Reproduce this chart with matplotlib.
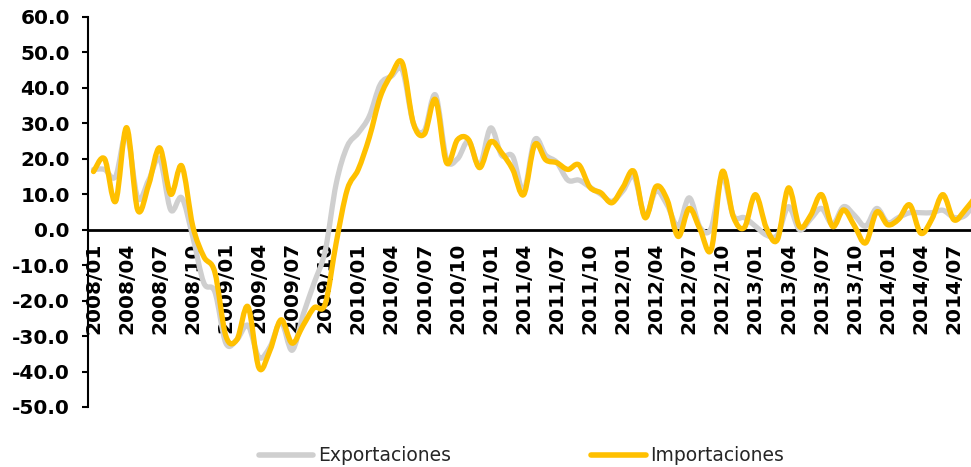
import matplotlib
matplotlib.use('Agg')
from matplotlib import pyplot as plt
from matplotlib.path import Path
from matplotlib.patches import PathPatch
from matplotlib.lines import Line2D
import numpy as np

plt.rcParams['font.family'] = ['DejaVu Sans']

# monthly growth, 2008/01 .. 2014/09
exportaciones = [17, 17, 15, 27, 9, 14, 20, 5.6, 9, -2,
                 -15, -17.5, -32, -31, -27, -36, -33, -26, -34, -24,
                 -15, -6, 13, 23.5, 27.3, 32, 41, 43.3, 45, 30,
                 28, 38, 20, 20, 25, 18, 28.7, 21, 20.7, 11,
                 25.4, 21, 19, 14, 14, 12, 10, 8, 11, 15,
                 4, 11, 7, 1, 9, 0.6, 0.5, 15, 4, 3.4,
                 1, -1.5, -1.5, 6.5, 0, 3, 6, 1.5, 6.5, 4,
                 1, 6, 2, 3.5, 4.8, 4.8, 4.8, 5.5, 3.5, 4,
                 8]
importaciones = [16.4, 20, 8, 28.8, 5.6, 12.7, 23.1, 10, 18, 1,
                 -7.6, -12, -30, -31, -21.7, -39, -34, -25.4, -32, -27,
                 -22, -21, -3.7, 11.3, 17, 26, 37.5, 43.7, 47, 30,
                 27, 36.7, 18.9, 25.4, 25.4, 17.5, 24.8, 21.7, 17, 9.9,
                 24, 19.7, 18.9, 17, 18.3, 12, 10.4, 7.6, 12, 16.4,
                 3.4, 12.2, 8.5, -1.9, 6, 0, -5.6, 16.4, 3.7, 0.6,
                 9.9, 0.5, -2.8, 11.8, 0.9, 4, 9.9, 0.9, 5.6, 1,
                 -3.7, 5, 1.4, 3, 7, -1, 3, 9.9, 2.8, 5.5,
                 9.5]

tick_labels = ["2008/01", "2008/04", "2008/07", "2008/10",
               "2009/01", "2009/04", "2009/07", "2009/10",
               "2010/01", "2010/04", "2010/07", "2010/10",
               "2011/01", "2011/04", "2011/07", "2011/10",
               "2012/01", "2012/04", "2012/07", "2012/10",
               "2013/01", "2013/04", "2013/07", "2013/10",
               "2014/01", "2014/04", "2014/07"]

GREY = "#CFCFCF"
GOLD = "#FFC000"


def smooth_path(xs, ys):
    # catmull-rom through the points, like excel's smoothed line
    n = len(xs)
    verts = [(xs[0], ys[0])]
    codes = [Path.MOVETO]
    for i in range(n - 1):
        a = max(i - 1, 0)
        d = min(i + 2, n - 1)
        c1 = (xs[i] + (xs[i + 1] - xs[a]) / 6.0, ys[i] + (ys[i + 1] - ys[a]) / 6.0)
        c2 = (xs[i + 1] - (xs[d] - xs[i]) / 6.0, ys[i + 1] - (ys[d] - ys[i]) / 6.0)
        verts += [c1, c2, (xs[i + 1], ys[i + 1])]
        codes += [Path.CURVE4] * 3
    return Path(verts, codes)


fig = plt.figure(figsize=(9.71, 4.67), dpi=100)
ax = fig.add_axes([88 / 971, 1 - 407 / 467, 1 - 88 / 971, 390 / 467])

# spine position first: it resets the tick labels
ax.spines['bottom'].set_position(('data', 0))
ax.spines['bottom'].set_linewidth(2)
ax.spines['left'].set_linewidth(1.5)
ax.spines['top'].set_visible(False)
ax.spines['right'].set_visible(False)

x = np.arange(len(importaciones))
for vals, col in [(exportaciones, GREY), (importaciones, GOLD)]:
    patch = PathPatch(smooth_path(x, vals), fill=False, edgecolor=col, lw=3.8,
                      capstyle='round', joinstyle='round', zorder=3)
    ax.add_patch(patch)

ax.set_xlim(-0.5, 79.55)
ax.set_ylim(-50, 60)

ax.set_yticks(np.arange(-50, 61, 10))
ax.set_yticklabels(["%.1f" % v for v in np.arange(-50, 61, 10)],
                   fontsize=14.5, fontweight='bold', color='black')
ax.tick_params(axis='y', length=4, width=1.5, pad=9)

ax.set_xticks(np.arange(0, 3 * len(tick_labels), 3))
ax.set_xticklabels(tick_labels, rotation=90, fontsize=14.5, fontweight='bold',
                   va='top', ha='center')
ax.tick_params(axis='x', length=0, pad=9)

handles = [Line2D([], [], color=GREY, lw=4, solid_capstyle='round'),
           Line2D([], [], color=GOLD, lw=4, solid_capstyle='round')]
fig.legend(handles, ["Exportaciones", "Importaciones"], loc='center',
           bbox_to_anchor=(0.537, 0.024), ncol=2, frameon=False,
           fontsize=13.5, handlelength=2.9, handletextpad=0.25,
           columnspacing=7.5, labelcolor='#262626')

fig.savefig("out.png", dpi=100)
